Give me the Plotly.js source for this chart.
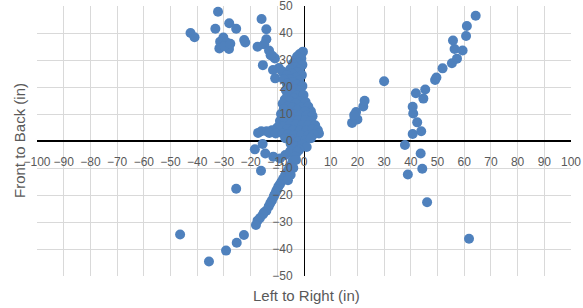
<!DOCTYPE html>
<html>
<head>
<meta charset="utf-8">
<script src="https://cdn.plot.ly/plotly-3.0.1.min.js"></script>
<style>html,body{margin:0;padding:0;background:#fff;}#chart{width:583px;height:308px;}</style>
</head>
<body>
<div id="chart"></div>
<script>
// Upper-left cluster
var upperLeftX = [-32.2,-42.5,-41,-33.2,-28,-25.4,-30.2,-31.4,-31.7,-28.8,-28.1,-29.9,-27.6,-22.4,-22,-17.4,-15.9,-14.1,-14.1,-14.9,-15.4,-13.1,-11.8,-10.9,-9.4,-8.1,-11.6,-10.8,-12.5];
var upperLeftY = [47.9,40,38.4,41.6,43.6,41.6,38.3,36.8,34.3,36.4,34.1,35.2,36,37.4,36.5,34.9,45.2,41.4,37.7,35.8,28.1,33.5,31.5,30.6,27,25.7,26.3,23.2,31.8];

// Central column / blob
var centerX = [-0.4,-1.6,-2.6,-1,-3.2,-2,-4.2,-0.6,-3.4,-5.2,-1.6,-2.6,-4.6,-6.4,-0.8,-3.2,-5.6,-7.6,-1.8,-4.2,-6.4,-2.6,-0.6,-5.2,-3.6,-6.8,-1.4,-4.6,-6.2,-2.6,-0.2,-3.8,-7.2,-5.4,-1.4,0.6,-8,-3,-6,-4.4,-1,1.6,-7.6,-2.6,2.6,0.4,-5.6,-8.6,-3.6,-1.6,1,3.2,-6.6,-4.4,-2,0.6,2.6,-9,-7,-5,-3,-0.6,1.6,4.2,-8,-10,-6,-4,-1.6,1,3,5.2,5.6,-12,-14,-16,-17.2,-13,-10.6,-8,-6,-3.6,-1,1.6,3.6,-7,-4.6,-2,0.6,2.6,-5,-3,-0.6,1,-1.8];
var centerY = [33.1,32.2,31.3,30.6,30,29,28.6,28.2,27.2,26.6,26.4,25.4,25,24.4,24.4,23.4,23,22.8,22.4,21.8,21.2,20.8,20.4,19.8,19.2,18.8,18.6,17.8,17.2,16.8,17,15.8,15.4,14.8,14.8,14.4,13.8,13.8,12.8,12.4,12.4,12.8,11.8,11.4,11,10.8,10.4,10,9.8,9.4,9.4,9.2,8.8,8,7.8,7.8,7.4,7.4,7,6.4,6,5.8,5.8,5.8,5.4,5,4.4,4,3.8,4,4.4,4,2.8,4,3.6,3.6,3,3,2.8,2.8,2.4,2,2,2,2.4,1,0.6,0,0.4,1,-1,-2,-1.4,-2.2,-3.2];

// Lower-left arm and tail
var lowerLeftX = [-15.5,-18.4,-16.1,-25.4,-14.5,-11.5,-9,-7,-5.2,-2.5,-3.4,-4.2,-4.6,-5.5,-5.9,-6.7,-7.1,-7.8,-8.4,-9,-9.6,-10.1,-10.5,-11,-11.3,-12,-12.6,-13.2,-14.1,-15,-15.4,-16.5,-17.4,-18,-22.5,-25.2,-29.2,-35.6,-46.4,-3,-4,-5,-6];
var lowerLeftY = [-1.1,-3.1,-11,-17.7,-4.6,-5.8,-6.5,-5.2,-3.8,-4,-5.8,-7.3,-8.5,-9.8,-10.9,-12,-12.8,-14,-15,-16,-16.9,-18,-18.8,-19.8,-20.6,-22,-23,-24.2,-25.8,-26.5,-27.2,-28.5,-29.5,-31.1,-34.8,-37.7,-40.6,-44.6,-34.6,-7,-10,-12.5,-14.5];

// Right-hand points
var rightX = [18,19,20,19.5,18.8,22.2,22.7,30,37.8,40.7,43.9,42.4,40.9,40.7,41.9,44.7,45.4,49.1,49.6,51.9,55.4,57.3,56.4,55.8,59.4,60.7,61,64.3,43.7,44.3,38.9,46.1,61.8];
var rightY = [6.7,8.8,8,10.7,9.6,12.8,14.9,22.1,-1.5,2.6,3.6,6.9,10.2,12.7,17.7,15.7,19.1,22.6,23.5,26.9,28.8,30.5,34.1,37.2,33.5,38.9,42.6,46.4,-4.6,-10.3,-12.4,-22.7,-36.2];

var xRange = [-100, 100];
var yRange = [-50, 50];
var tickStep = 10;
var xTitle = "Left to Right (in)";
var yTitle = "Front to Back (in)";

var allX = [].concat(upperLeftX, centerX, lowerLeftX, rightX);
var allY = [].concat(upperLeftY, centerY, lowerLeftY, rightY);

var trace = {
  x: allX, y: allY, type: 'scatter', mode: 'markers',
  marker: {color: '#4F81BD', size: 10},
  hoverinfo: 'none', showlegend: false, cliponaxis: false
};

var tickFont = {family: 'Liberation Sans, Arial, sans-serif', size: 12, color: '#595959'};
var titleFont = {family: 'Liberation Sans, Arial, sans-serif', size: 15, color: '#595959'};
var layout = {
  width: 583, height: 308,
  margin: {l: 37, r: 12, t: 6, b: 32, pad: 0},
  paper_bgcolor: '#ffffff', plot_bgcolor: '#ffffff',
  showlegend: false,
  xaxis: {
    range: xRange, tickmode: 'linear', tick0: xRange[0], dtick: tickStep,
    showgrid: true, gridcolor: '#d9d9d9', gridwidth: 1,
    zeroline: true, zerolinecolor: '#000000', zerolinewidth: 1,
    showline: false, anchor: 'free', position: 0.5,
    ticks: 'outside', ticklen: 10, tickcolor: 'rgba(0,0,0,0)',
    ticklabeloverflow: 'allow',
    tickfont: tickFont, fixedrange: true
  },
  yaxis: {
    range: yRange, tickmode: 'linear', tick0: yRange[0], dtick: tickStep,
    showgrid: true, gridcolor: '#d9d9d9', gridwidth: 1,
    zeroline: true, zerolinecolor: '#000000', zerolinewidth: 2,
    showline: false, anchor: 'free', position: 0.5,
    ticks: 'outside', ticklen: 9, tickcolor: 'rgba(0,0,0,0)',
    ticklabeloverflow: 'allow',
    tickfont: tickFont, fixedrange: true
  },
  annotations: [
    {text: xTitle, xref: 'paper', yref: 'paper', x: 0.504, y: 0, yshift: -19, yanchor: 'middle', xanchor: 'center', showarrow: false,
     font: titleFont},
    {text: yTitle, xref: 'paper', yref: 'paper', x: 0, xshift: -18, y: 0.5, xanchor: 'center', yanchor: 'middle', textangle: -90, showarrow: false,
     font: titleFont}
  ]
};

Plotly.newPlot('chart', [trace], layout, {staticPlot: true, displayModeBar: false});
</script>
</body>
</html>
